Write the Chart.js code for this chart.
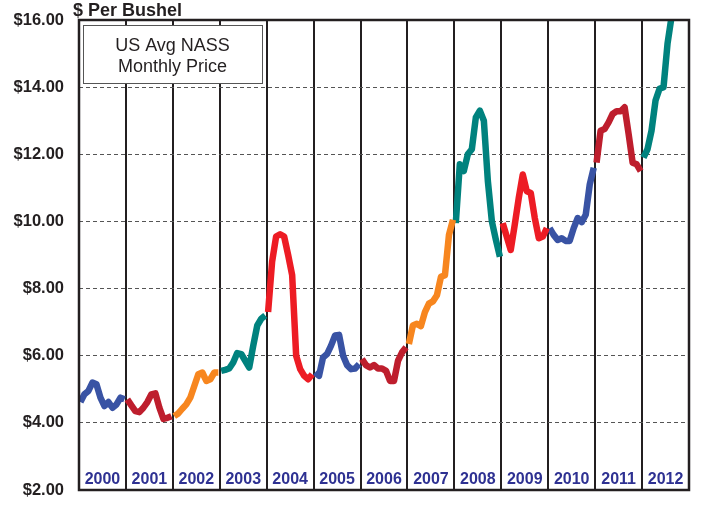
<!DOCTYPE html>
<html>
<head>
<meta charset="utf-8">
<script src="https://cdn.jsdelivr.net/npm/chart.js@4/dist/chart.umd.min.js"></script>
<style>
    body { margin: 0; background: #fff; }
    canvas { display: block; }
</style>
</head>
<body>
<canvas id="priceChart" width="701" height="506"></canvas>
<script>
// US avg NASS monthly price, $ per bushel, Jan..Dec of each year
const years = [2000, 2001, 2002, 2003, 2004, 2005, 2006, 2007, 2008, 2009, 2010, 2011, 2012];
const p2000 = [4.62, 4.85, 4.95, 5.20, 5.15, 4.75, 4.50, 4.62, 4.45, 4.55, 4.75, 4.70];
const p2001 = [4.70, 4.52, 4.35, 4.32, 4.45, 4.62, 4.85, 4.88, 4.45, 4.12, 4.15, 4.20];
const p2002 = [4.20, 4.28, 4.42, 4.55, 4.75, 5.10, 5.45, 5.50, 5.25, 5.30, 5.50, 5.50];
const p2003 = [5.55, 5.58, 5.62, 5.80, 6.08, 6.05, 5.85, 5.65, 6.30, 6.90, 7.10, 7.20];
const p2004 = [7.30, 8.80, 9.55, 9.62, 9.55, 9.00, 8.40, 6.00, 5.60, 5.40, 5.30, 5.45];
const p2005 = [5.50, 5.40, 5.95, 6.05, 6.30, 6.60, 6.62, 6.00, 5.72, 5.60, 5.62, 5.75];
const p2006 = [5.90, 5.72, 5.65, 5.72, 5.62, 5.62, 5.55, 5.25, 5.25, 5.85, 6.10, 6.25];
const p2007 = [6.35, 6.90, 6.95, 6.88, 7.30, 7.55, 7.62, 7.80, 8.35, 8.40, 9.60, 10.05];
const p2008 = [9.95, 11.70, 11.50, 12.00, 12.15, 13.10, 13.30, 13.00, 11.20, 10.00, 9.45, 8.95];
const p2009 = [9.95, 9.55, 9.15, 9.90, 10.70, 11.40, 10.90, 10.85, 10.10, 9.50, 9.55, 9.80];
const p2010 = [9.80, 9.60, 9.45, 9.50, 9.42, 9.42, 9.80, 10.10, 9.98, 10.20, 11.10, 11.60];
const p2011 = [11.75, 12.70, 12.75, 12.95, 13.20, 13.28, 13.28, 13.40, 12.60, 11.75, 11.70, 11.50];
const p2012 = [11.90, 12.15, 12.70, 13.60, 13.95, 14.00, 15.30, 16.10];
const series = [p2000, p2001, p2002, p2003, p2004, p2005, p2006, p2007, p2008, p2009, p2010, p2011, p2012];
const yTicks = [2, 4, 6, 8, 10, 12, 14, 16];

const BLUE = "#3953a4", DARKRED = "#be1e2d", RED = "#ed1c24", ORANGE = "#f7861f", TEAL = "#00827e";
const colors = [BLUE, DARKRED, ORANGE, TEAL, RED, BLUE, DARKRED, ORANGE, TEAL, RED, BLUE, DARKRED, TEAL];
const FONT = 'Arial, "Liberation Sans", sans-serif';

// text and frame drawn on top of the plot
const overlay = {
    id: "overlay",
    afterDatasetsDraw(chart) {
        const { ctx, chartArea: a, scales: { x } } = chart;
        ctx.save();

        ctx.fillStyle = "#2e3192";
        ctx.font = "bold 16px " + FONT;
        ctx.textAlign = "center";
        ctx.textBaseline = "middle";
        years.forEach(yr => ctx.fillText(String(yr), x.getPixelForValue(yr + 0.5), a.bottom - 10.5));

        ctx.strokeStyle = "#231f20";
        ctx.lineWidth = 2.5;
        ctx.strokeRect(a.left, a.top, a.right - a.left, a.bottom - a.top);

        // label box
        const bx = a.left + 4, by = a.top + 5, bw = 179, bh = 58;
        ctx.fillStyle = "#fff";
        ctx.fillRect(bx, by, bw, bh);
        ctx.strokeStyle = "#555";
        ctx.lineWidth = 1;
        ctx.strokeRect(bx + 0.5, by + 0.5, bw, bh);
        ctx.fillStyle = "#231f20";
        ctx.font = "18px " + FONT;
        ctx.fillText("US Avg NASS", bx + bw / 2, by + 21);
        ctx.fillText("Monthly Price", bx + bw / 2, by + 42);

        ctx.textAlign = "left";
        ctx.textBaseline = "alphabetic";
        ctx.font = "bold 18px " + FONT;
        ctx.fillText("$ Per Bushel", 73, 15.5);
        ctx.restore();
    }
};

new Chart(document.getElementById("priceChart"), {
    type: "line",
    data: {
        datasets: years.map((yr, i) => ({
            data: series[i].map((v, m) => ({ x: yr + 0.03 + m * 0.94 / 11, y: v })),
            borderColor: colors[i],
            borderWidth: 6.5,
            borderJoinStyle: "round",
            pointRadius: 0,
            tension: 0,
            clip: 0
        }))
    },
    options: {
        responsive: false,
        animation: false,
        layout: { padding: { top: 20, right: 12, bottom: 16, left: 0 } },
        plugins: { legend: { display: false }, tooltip: { enabled: false } },
        scales: {
            x: {
                type: "linear",
                min: 2000,
                max: 2013,
                afterFit: s => { s.height = 0; },
                ticks: { display: false, stepSize: 1 },
                grid: { color: "#231f20", lineWidth: 2, drawTicks: false },
                border: { display: false }
            },
            y: {
                min: 2,
                max: 16,
                afterFit: s => { s.width = 79; s.paddingTop = 0; s.paddingBottom = 0; },
                afterBuildTicks: s => { s.ticks = yTicks.map(v => ({ value: v })); },
                ticks: {
                    padding: 15,
                    color: "#231f20",
                    font: { family: FONT, size: 16.5, weight: "bold" },
                    callback: v => "$" + v.toFixed(2)
                },
                grid: { color: "#555", lineWidth: 1, drawTicks: false },
                border: { display: false, dash: [4, 3] }
            }
        }
    },
    plugins: [overlay]
});
</script>
</body>
</html>
